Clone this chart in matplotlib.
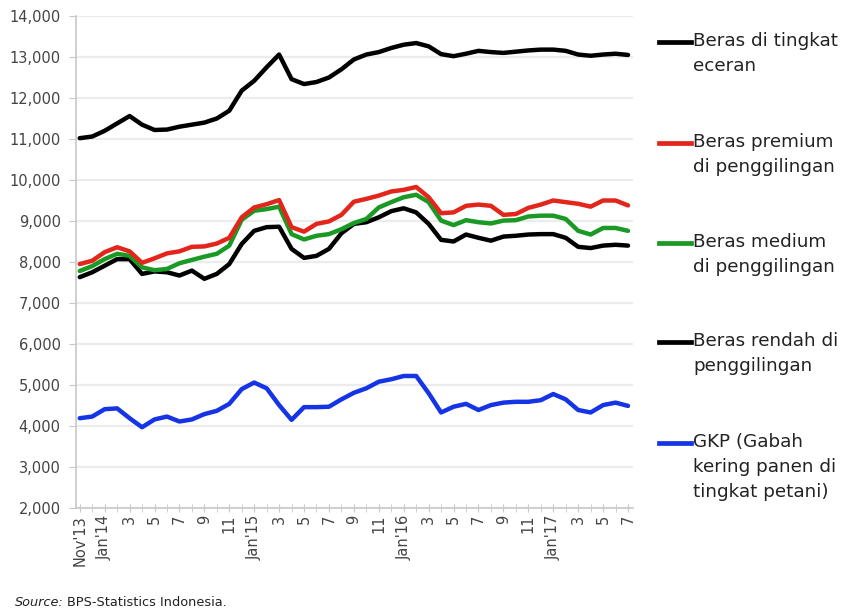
import matplotlib
matplotlib.use("Agg")
import matplotlib.pyplot as plt
from matplotlib.lines import Line2D
from matplotlib.ticker import FuncFormatter, MultipleLocator

# Monthly prices (Rp/kg), Nov 2013 - Jul 2017
months = list(range(45))
tick_labels = ["Nov'13", "Jan'14", "3", "5", "7", "9", "11",
               "Jan'15", "3", "5", "7", "9", "11",
               "Jan'16", "3", "5", "7", "9", "11",
               "Jan'17", "3", "5", "7"]

eceran = [11020, 11060, 11200, 11380, 11560, 11350, 11220, 11230, 11300, 11350,
          11400, 11500, 11690, 12180, 12420, 12750, 13060, 12460, 12340, 12390,
          12500, 12700, 12940, 13060, 13120, 13220, 13300, 13340, 13260, 13070,
          13020, 13080, 13150, 13120, 13100, 13130, 13160, 13180, 13180, 13150,
          13060, 13030, 13060, 13080, 13050]

premium = [7950, 8030, 8240, 8360, 8260, 7980, 8090, 8210, 8260, 8370,
           8380, 8450, 8590, 9090, 9330, 9410, 9510, 8850, 8740, 8930,
           8990, 9150, 9470, 9540, 9620, 9720, 9760, 9830, 9580, 9190,
           9210, 9370, 9400, 9370, 9150, 9170, 9320, 9400, 9500, 9460,
           9420, 9350, 9500, 9500, 9380]

medium = [7780, 7900, 8070, 8200, 8150, 7870, 7800, 7830, 7970, 8050,
          8130, 8200, 8400, 9030, 9250, 9290, 9350, 8680, 8550, 8640,
          8680, 8800, 8950, 9050, 9330, 9460, 9580, 9640, 9460, 9010,
          8900, 9020, 8970, 8940, 9010, 9020, 9110, 9130, 9130, 9050,
          8760, 8670, 8830, 8830, 8760]

rendah = [7630, 7750, 7910, 8070, 8070, 7710, 7770, 7750, 7670, 7790,
          7590, 7710, 7950, 8440, 8760, 8850, 8860, 8320, 8100, 8150,
          8320, 8700, 8930, 8970, 9090, 9240, 9310, 9210, 8930, 8540,
          8500, 8670, 8590, 8520, 8620, 8640, 8670, 8680, 8680, 8590,
          8370, 8340, 8400, 8420, 8400]

gkp = [4190, 4230, 4410, 4430, 4190, 3970, 4160, 4230, 4110, 4160,
       4290, 4370, 4540, 4900, 5060, 4920, 4510, 4150, 4460, 4460,
       4470, 4650, 4810, 4920, 5080, 5140, 5220, 5220, 4800, 4330,
       4470, 4540, 4390, 4510, 4570, 4590, 4590, 4630, 4780, 4650,
       4390, 4330, 4510, 4570, 4490]

series = [
    ("Beras di tingkat\neceran", eceran, "#000000"),
    ("Beras premium\ndi penggilingan", premium, "#e3261b"),
    ("Beras medium\ndi penggilingan", medium, "#1a9a24"),
    ("Beras rendah di\npenggilingan", rendah, "#000000"),
    ("GKP (Gabah\nkering panen di\ntingkat petani)", gkp, "#1534e6"),
]

W, H = 855, 611
fig = plt.figure(figsize=(W / 100, H / 100), dpi=100)
ax = fig.add_axes([76 / W, 1 - 508 / H, (633 - 76) / W, (508 - 16) / H])

# draw order: retail, low, medium, premium, GKP
for idx in [0, 3, 2, 1, 4]:
    label, vals, col = series[idx]
    ax.plot(months, vals, color=col, lw=3.2, solid_joinstyle="round",
            solid_capstyle="round", zorder=3)

ax.set_ylim(2000, 14000)
ax.set_xlim(-0.3, 44.4)
ax.yaxis.set_major_locator(MultipleLocator(1000))
ax.yaxis.set_major_formatter(FuncFormatter(lambda v, p: f"{int(v):,}"))
ax.grid(axis="y", color="#ececec", lw=1.6, zorder=0)
ax.set_axisbelow(True)

ax.set_xticks(range(0, 45, 2))
ax.set_xticklabels(tick_labels, rotation=90)
ax.set_xticks(range(45), minor=True)

for s in ["top", "right"]:
    ax.spines[s].set_visible(False)
for s in ["left", "bottom"]:
    ax.spines[s].set_color("#c8c8c8")
    ax.spines[s].set_linewidth(1.2)

ax.tick_params(axis="y", which="major", length=5, color="#c8c8c8",
               labelsize=10.5, labelcolor="#444444", pad=6)
ax.tick_params(axis="x", which="both", direction="inout", length=6,
               color="#c8c8c8", labelsize=10.5, labelcolor="#444444", pad=2)

# legend drawn in figure pixel coordinates
entries = [(42, series[0]), (143, series[1]), (243, series[2]),
           (342, series[3]), (443, series[4])]
for ypix, (label, _, col) in entries:
    yf = 1 - ypix / H
    fig.add_artist(Line2D([659 / W, 691 / W], [yf, yf], color=col, lw=3.4,
                          transform=fig.transFigure))
    fig.text(693 / W, 1 - (ypix - 10) / H, label, fontsize=13.2,
             color="#222222", va="top", ha="left", linespacing=1.5)

fig.text(15 / W, 1 - 602 / H, "Source:", fontsize=9.3, style="italic",
         color="#222222", va="center")
fig.text(67 / W, 1 - 602 / H, "BPS-Statistics Indonesia.", fontsize=9.3,
         color="#222222", va="center")

fig.savefig("out.png", dpi=100, facecolor="white")
